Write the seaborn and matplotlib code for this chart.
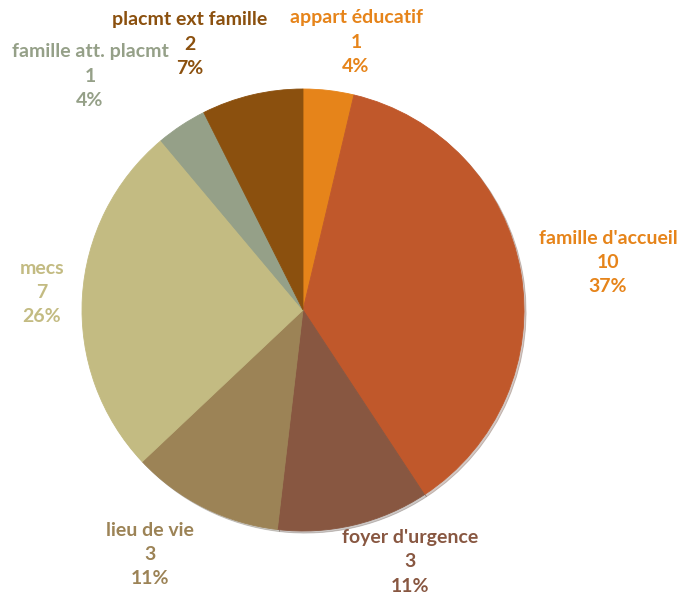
import matplotlib
matplotlib.use("Agg")
import matplotlib.pyplot as plt
import seaborn as sns

labels = ["appart éducatif", "famille d'accueil", "foyer d'urgence", "lieu de vie",
          "mecs", "famille att. placmt", "placmt ext famille"]
values = [1, 10, 3, 3, 7, 1, 2]
slice_colors = ["#E6841A", "#C0582B", "#885741", "#9C8356", "#C3BB82", "#95A088", "#8B500E"]
text_colors = ["#E6841A", "#E6841A", "#885741", "#9C8356", "#C3BB82", "#95A088", "#8B500E"]
# label centres in pixels (x, y of the first line)
label_pos = [(356, 18), (608, 238), (410, 537), (150, 530), (42, 268), (90, 52), (190, 20)]

sns.set_theme(style="white")
plt.rcParams["font.family"] = ["Lato", "DejaVu Sans"]

W, H = 680, 598
fig = plt.figure(figsize=(W / 100, H / 100), dpi=100)
ax = fig.add_axes([0, 0, 1, 1])

wedges, _ = ax.pie(values, colors=sns.color_palette(slice_colors), startangle=90, counterclock=False,
                   center=(303, H - 310), radius=221, frame=True,
                   shadow=dict(ox=1.5, oy=-1.5, shade=0.6, alpha=0.25),
                   wedgeprops=dict(linewidth=0.6))
for w in wedges:
    w.set_edgecolor(w.get_facecolor())
ax.set_xlim(0, W)
ax.set_ylim(0, H)
ax.axis("off")

total = sum(values)
for lab, v, c, (x, y) in zip(labels, values, text_colors, label_pos):
    pct = round(100 * v / total)
    for i, line in enumerate([lab, str(v), f"{pct}%"]):
        ax.text(x, H - (y + 24.5 * i), line, color=c, ha="center", va="center",
                fontsize=14, fontweight="bold")

fig.savefig("out.png", dpi=100)
